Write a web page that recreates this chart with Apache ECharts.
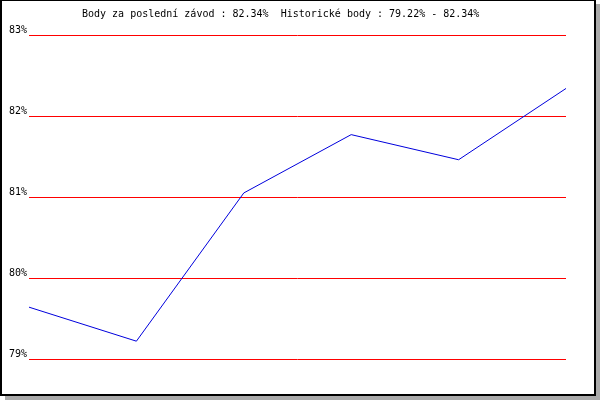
<!DOCTYPE html>
<html>
<head>
<meta charset="utf-8">
<script src="https://cdn.jsdelivr.net/npm/echarts@6/dist/echarts.min.js"></script>
<style>html,body{margin:0;padding:0;background:#fff}#c{width:600px;height:400px}</style>
</head>
<body>
<div id="c"></div>
<script>
var titleText = 'Body za poslední závod : 82.34%  Historické body : 79.22% - 82.34%';
var categories = ['1', '2', '3', '4', '5', '6'];
var points = [79.64, 79.22, 81.05, 81.77, 81.46, 82.34];
var yMin = 79, yMax = 83, yStep = 1;

var chart = echarts.init(document.getElementById('c'), null, {renderer: 'canvas'});
var mono = 'DejaVu Sans Mono';
chart.setOption({
  animation: false,
  backgroundColor: '#ffffff',
  graphic: [
    {type: 'rect', z: -20, silent: true, shape: {x: 5, y: 4, width: 595, height: 396}, style: {fill: '#aaaaaa'}},
    {type: 'rect', z: -19, silent: true, shape: {x: 0, y: 0, width: 596, height: 396}, style: {fill: '#000000'}},
    {type: 'rect', z: -18, silent: true, shape: {x: 2, y: 1, width: 592, height: 393}, style: {fill: '#ffffff'}}
  ],
  title: {
    text: titleText,
    left: 82, top: 9,
    padding: 0,
    textStyle: {fontFamily: mono, fontSize: 10, fontWeight: 'normal', color: '#000'}
  },
  grid: {left: 29, right: 34, top: 35, bottom: 41, containLabel: false},
  xAxis: {
    type: 'category', data: categories, boundaryGap: false,
    axisLine: {show: false}, axisTick: {show: false}, axisLabel: {show: false}, splitLine: {show: false}
  },
  yAxis: {
    type: 'value', min: yMin, max: yMax, interval: yStep,
    axisLine: {show: false}, axisTick: {show: false},
    axisLabel: {formatter: '{value}%', fontFamily: mono, fontSize: 10, color: '#000', margin: 2, verticalAlign: 'bottom'},
    splitLine: {show: true, lineStyle: {color: '#ff0000', width: 1}}
  },
  series: [{
    type: 'line', data: points, symbol: 'none',
    lineStyle: {color: '#0000dd', width: 1}
  }]
});
</script>
</body>
</html>
